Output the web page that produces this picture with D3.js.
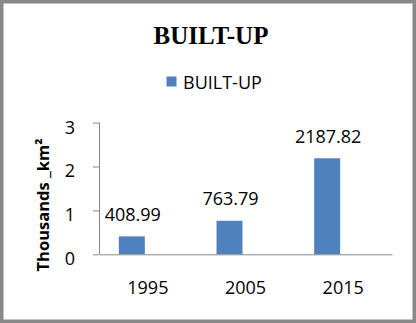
<!DOCTYPE html>
<html>
<head>
<meta charset="utf-8">
<script src="https://cdn.jsdelivr.net/npm/d3@7/dist/d3.min.js"></script>
<style>
html,body{margin:0;padding:0;background:#fff;}
svg{display:block;}
</style>
</head>
<body>
<svg id="chart" width="416" height="323"></svg>
<script>
const categories = ["1995", "2005", "2015"];
const values = [408.99, 763.79, 2187.82];
const seriesName = "BUILT-UP";
const yTicks = [0, 1, 2, 3];
const chartTitle = "BUILT-UP";
const yTitle = "Thousands _km²";

const W = 416, H = 323;
const svg = d3.select("#chart");
const font = "'Open Sans', 'Liberation Sans', sans-serif";
const axisColor = "#868686";
const barColor = "#4f81bd";

// border
svg.append("rect")
  .attr("x", 1.75).attr("y", 1.75)
  .attr("width", W - 3.5).attr("height", H - 3.5)
  .attr("fill", "#fff").attr("stroke", "#898989").attr("stroke-width", 3.5);

// title
svg.append("text")
  .attr("x", 211).attr("y", 44)
  .attr("text-anchor", "middle")
  .attr("font-family", "'Liberation Serif', 'Times New Roman', serif")
  .attr("font-weight", "bold").attr("font-size", 25)
  .attr("fill", "#000")
  .text(chartTitle);

// legend
const lg = svg.append("g").attr("transform", "translate(166.5,76.5)");
lg.append("rect").attr("width", 10).attr("height", 10).attr("fill", barColor);
lg.append("text").attr("x", 16.5).attr("y", 12)
  .attr("font-family", font).attr("font-size", 18).attr("fill", "#000")
  .text(seriesName);

// scales
const plot = {left: 99, right: 392, top: 122.6, bottom: 254.3};
const x = d3.scaleBand().domain(categories).range([plot.left, plot.right]).padding(0);
const y = d3.scaleLinear().domain([0, 3]).range([plot.bottom, plot.top]);
const barW = 26, barShift = -16;

// y axis
const yAxis = svg.append("g").attr("transform", `translate(${plot.left},0)`)
  .call(d3.axisLeft(y).tickValues(yTicks).tickFormat(d3.format("d")).tickSize(6).tickPadding(18));
yAxis.select(".domain").attr("stroke", axisColor).attr("d", `M0.5,${plot.top}V${plot.bottom}`);
yAxis.selectAll(".tick line").attr("stroke", axisColor);
yAxis.selectAll(".tick text")
  .attr("font-family", font).attr("font-size", 18).attr("fill", "#000")
  .attr("dy", "0.72em").attr("y", -2.5);

// bars
svg.append("g").selectAll("rect").data(values).join("rect")
  .attr("x", (d, i) => x(categories[i]) + x.bandwidth() / 2 + barShift - barW / 2)
  .attr("y", d => y(d / 1000))
  .attr("width", barW)
  .attr("height", d => y(0) - y(d / 1000))
  .attr("fill", barColor);

// data labels
svg.append("g").selectAll("text").data(values).join("text")
  .attr("x", (d, i) => x(categories[i]) + x.bandwidth() / 2 + barShift + 1)
  .attr("y", d => y(d / 1000) - 15.5)
  .attr("text-anchor", "middle")
  .attr("font-family", font).attr("font-size", 18).attr("fill", "#000")
  .text(d => d3.format(".2f")(d));

// x axis
const xAxis = svg.append("g").attr("transform", `translate(0,${plot.bottom})`)
  .call(d3.axisBottom(x).tickSize(0).tickPadding(27));
xAxis.select(".domain").attr("stroke", axisColor);
xAxis.selectAll(".tick text")
  .attr("font-family", font).attr("font-size", 18).attr("fill", "#000");

// y title
svg.append("text")
  .attr("transform", "translate(48.5,205) rotate(-90)")
  .attr("text-anchor", "middle")
  .attr("font-family", font).attr("font-weight", "bold").attr("font-size", 16.5)
  .attr("fill", "#000")
  .text(yTitle);
</script>
</body>
</html>
